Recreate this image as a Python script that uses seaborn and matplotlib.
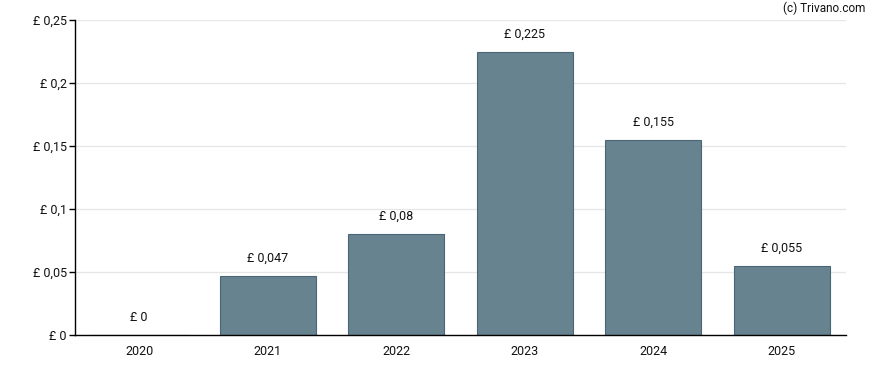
import matplotlib
matplotlib.use("Agg")
import matplotlib.pyplot as plt
import seaborn as sns
import pandas as pd

years = ["2020", "2021", "2022", "2023", "2024", "2025"]
values = [0.0, 0.047, 0.08, 0.225, 0.155, 0.055]
labels = ["£ 0", "£ 0,047", "£ 0,08", "£ 0,225", "£ 0,155", "£ 0,055"]
yticks = [0, 0.05, 0.1, 0.15, 0.2, 0.25]
ytick_labels = ["£ 0", "£ 0,05", "£ 0,1", "£ 0,15", "£ 0,2", "£ 0,25"]

sns.set_style("white")
plt.rcParams["font.family"] = ["Roboto", "DejaVu Sans"]

df = pd.DataFrame({"year": years, "value": values})
fig = plt.figure(figsize=(8.88, 3.7), dpi=100)
ax = fig.add_axes([75/888, 35/370, 771/888, 315/370])

sns.barplot(data=df, x="year", y="value", ax=ax, color="#66838f", saturation=1,
            width=0.75, edgecolor="#4a6575", linewidth=0.8, zorder=2)

for i, (v, t) in enumerate(zip(values, labels)):
    ax.annotate(t, (i, v), xytext=(0, 8), textcoords="offset points",
                ha="center", va="bottom", fontsize=9, color="#111111")

ax.set_xlim(-0.5, 5.5)
ax.set_ylim(0, 0.25)
ax.set_yticks(yticks)
ax.set_yticklabels(ytick_labels)
ax.set_xlabel("")
ax.set_ylabel("")
ax.yaxis.grid(True, color="#e6e6e6", linewidth=0.9, zorder=0)
ax.set_axisbelow(True)
for s in ["top", "right"]:
    ax.spines[s].set_visible(False)
for s in ["left", "bottom"]:
    ax.spines[s].set_color("#000000")
    ax.spines[s].set_linewidth(1)
ax.tick_params(axis="y", left=True, length=4, width=1, color="#000000", labelsize=9, pad=2, labelcolor="#111111")
ax.tick_params(axis="x", bottom=False, labelsize=9, pad=4, labelcolor="#111111")

fig.text(865/888, 1 - 8/370, "(c) Trivano.com", ha="right", va="center", fontsize=8.5, color="#111111")

fig.savefig("out.png", dpi=100)
